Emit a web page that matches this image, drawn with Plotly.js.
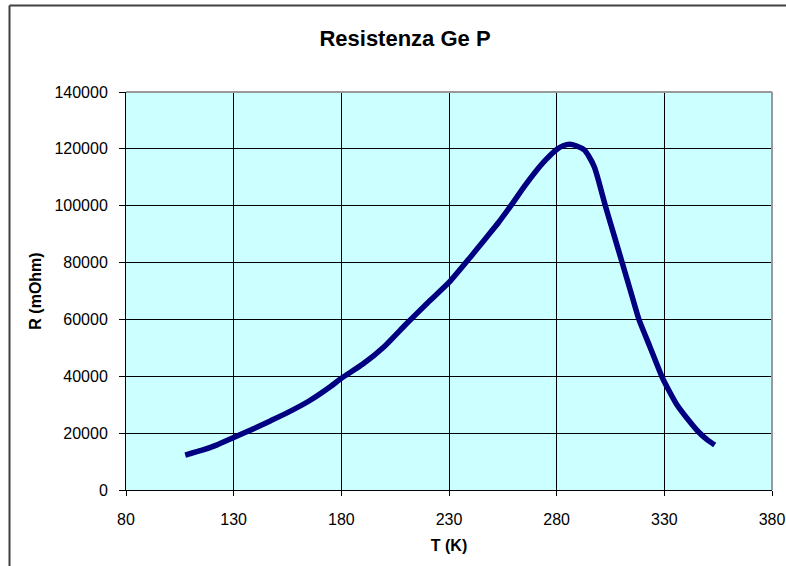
<!DOCTYPE html>
<html>
<head>
<meta charset="utf-8">
<script src="https://cdn.plot.ly/plotly-3.0.1.min.js"></script>
<style>html,body{margin:0;padding:0;background:#fff;}#chart{width:786px;height:566px;}</style>
</head>
<body>
<div id="chart"></div>
<script>
const chartTitle = "Resistenza Ge P";
const xTitle = "T (K)";
const yTitle = "R (mOhm)";
const temperatureK = [107.5, 115, 122, 130, 140, 147, 155, 165, 175, 180, 190, 200, 210, 220, 230, 240, 247, 253, 259, 265, 270, 275, 280, 283, 286, 289, 292.9, 295, 297.5, 299.2, 302.6, 306.5, 310.4, 314.3, 318.2, 323.3, 328.8, 332, 336, 341, 345.8, 350, 353.4];
const resistanceMOhm = [12300, 13900, 15800, 18500, 21800, 24300, 27200, 31300, 36400, 39300, 44300, 50500, 58300, 65800, 73000, 82000, 88500, 94100, 100300, 106800, 111800, 116200, 119800, 121100, 121600, 121100, 119600, 117300, 113600, 109500, 100000, 90000, 80000, 70000, 60000, 50400, 40000, 35200, 29800, 24800, 20500, 17600, 15800];
const xTicks = [80, 130, 180, 230, 280, 330, 380];
const yTicks = [0, 20000, 40000, 60000, 80000, 100000, 120000, 140000];

const trace = {
  x: temperatureK, y: resistanceMOhm, type: 'scatter', mode: 'lines',
  line: {color: '#000080', width: 5.5, shape: 'spline', smoothing: 0.5},
  hoverinfo: 'x+y'
};

const W = 786, H = 566, L = 126, R = 14, T = 92, B = 76;
const pw = W - L - R, ph = H - T - B;
const px = v => (v - L) / pw;
const py = v => (H - B - v) / ph;

const layout = {
  width: W, height: H,
  margin: {l: L, r: R, t: T, b: B, pad: 0},
  paper_bgcolor: '#ffffff', plot_bgcolor: '#ccffff',
  showlegend: false,
  font: {family: 'Liberation Sans, Arial, sans-serif', color: '#000', size: 16},
  title: {text: chartTitle, font: {size: 22, family: 'Liberation Sans, Arial, sans-serif', weight: 'bold', color: '#000'},
          x: 405 / W, xref: 'container', xanchor: 'center', y: 1 - 38 / H, yref: 'container', yanchor: 'middle'},
  xaxis: {
    range: [80, 380], tickvals: xTicks, ticktext: xTicks.map(String),
    showgrid: true, gridcolor: '#000', gridwidth: 1, zeroline: false,
    showline: true, linecolor: '#000', linewidth: 1,
    ticks: 'outside', ticklen: 5, tickcolor: '#000', ticklabelstandoff: 10,
    tickfont: {size: 16},
    title: {text: '<b>' + xTitle + '</b>', font: {size: 16}, standoff: 12}
  },
  yaxis: {
    range: [0, 140000], tickvals: yTicks, ticktext: yTicks.map(String),
    showgrid: true, gridcolor: '#000', gridwidth: 1, zeroline: false,
    showline: true, linecolor: '#000', linewidth: 1,
    ticks: 'outside', ticklen: 6, tickcolor: '#000', ticklabelstandoff: 8,
    tickfont: {size: 16},
    title: {text: '<b>' + yTitle + '</b>', font: {size: 16}, standoff: 8}
  },
  shapes: [
    {type: 'line', xref: 'paper', yref: 'paper', x0: 1, x1: 1, y0: 0, y1: 1, line: {color: '#999999', width: 2}},
    {type: 'line', xref: 'paper', yref: 'paper', x0: 0, x1: 1, y0: 1, y1: 1, line: {color: '#999999', width: 2}},
    {type: 'line', xref: 'paper', yref: 'paper', x0: px(9.5), x1: px(9.5), y0: py(5.5), y1: py(566), line: {color: '#404040', width: 2}},
    {type: 'line', xref: 'paper', yref: 'paper', x0: px(9.5), x1: px(786), y0: py(5.5), y1: py(5.5), line: {color: '#404040', width: 2}}
  ]
};

Plotly.newPlot('chart', [trace], layout, {displayModeBar: false, staticPlot: true});
</script>
</body>
</html>
